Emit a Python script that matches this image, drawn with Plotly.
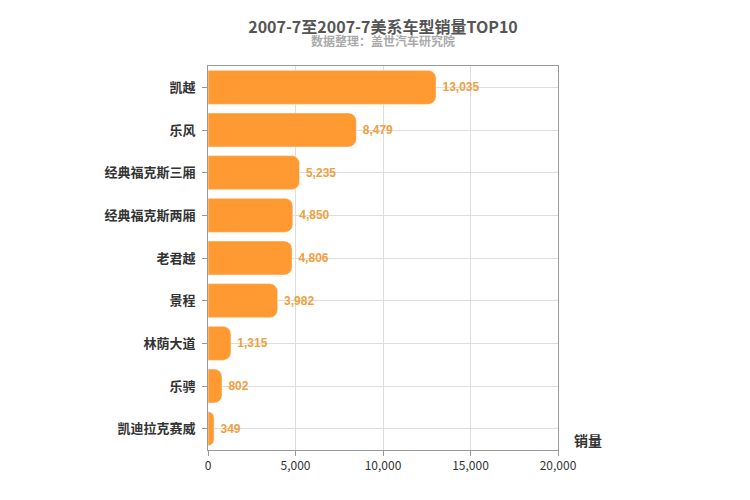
import plotly.graph_objects as go

models = ["凯越", "乐风", "经典福克斯三厢", "经典福克斯两厢", "老君越", "景程", "林荫大道", "乐骋", "凯迪拉克赛威"]
sales = [13035, 8479, 5235, 4850, 4806, 3982, 1315, 802, 349]
x_ticks = [0, 5000, 10000, 15000, 20000]

fig = go.Figure()
fig.add_trace(go.Bar(
    y=[f"<b>{m}</b>" for m in models],
    x=sales,
    orientation="h",
    marker={"color": "#ff9a33", "cornerradius": 8},
    width=0.8,
    text=[f"<b> {v:,}</b>" for v in sales],
    textposition="outside",
    textfont={"color": "#f0a040", "size": 12, "family": "Arial"},
    cliponaxis=False,
))
fig.update_layout(
    width=750,
    height=500,
    template="plotly_white",
    showlegend=False,
    margin={"l": 200, "r": 200, "t": 58, "b": 58},
    font={"family": "Noto Sans CJK SC, Arial", "size": 12, "color": "#333"},
    title={"text": "<b>2007-7至2007-7美系车型销量TOP10</b>", "x": 0.5, "y": 0.972,
           "xanchor": "center", "font": {"size": 16, "color": "#555"}},
    annotations=[
        {"text": "<b>数据整理：盖世汽车研究院</b>", "xref": "paper", "yref": "paper", "x": 0.5, "y": 1.04,
         "showarrow": False, "font": {"size": 12, "color": "#aaa"}, "xanchor": "center", "yanchor": "bottom"},
        {"text": "<b>销量</b>", "xref": "paper", "yref": "paper", "x": 1.04, "y": -0.005,
         "showarrow": False, "font": {"size": 14, "color": "#333"}, "xanchor": "left", "yanchor": "bottom"},
    ],
    xaxis={"range": [0, 20000], "tickvals": x_ticks, "tickformat": ",", "showgrid": True,
           "gridcolor": "#ddd", "showline": True, "linecolor": "#999", "zeroline": False,
           "ticks": "outside", "tickcolor": "#999", "mirror": True},
    yaxis={"autorange": "reversed", "showgrid": True, "gridcolor": "#ddd", "showline": True,
           "linecolor": "#999", "mirror": True, "tickfont": {"size": 13, "color": "#333"},
           "ticks": "outside", "tickcolor": "#999", "ticklabelstandoff": 4},
    bargap=0.2,
)
fig.write_html("out.html")
